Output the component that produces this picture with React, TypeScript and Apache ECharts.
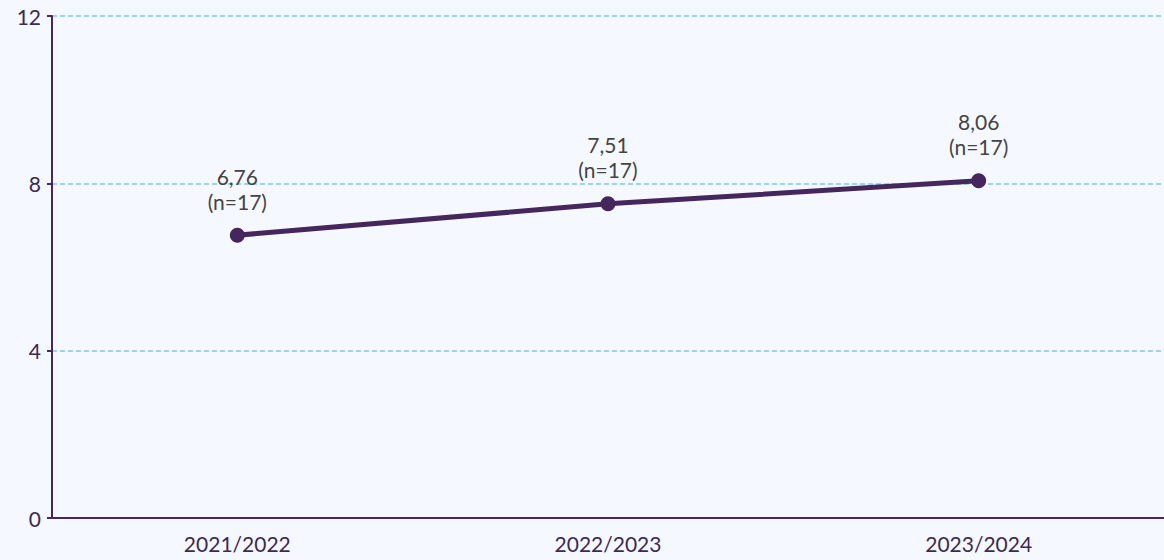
import React, { useEffect, useRef } from "react";
import * as echarts from "echarts";

const categories = ["2021/2022", "2022/2023", "2023/2024"];
const values = [6.76, 7.51, 8.06];
const counts = [17, 17, 17];

export default function App() {
  const ref = useRef<HTMLDivElement>(null);
  useEffect(() => {
    if (!ref.current) return;
    const chart = echarts.init(ref.current, null, { renderer: "svg" });
    const axisColor = "#45285f";
    chart.setOption({
      animation: false,
      backgroundColor: "#f5f8fe",
      textStyle: { fontFamily: "Lato" },
      grid: { left: 52, right: 0, top: 16, bottom: 42 },
      xAxis: {
        type: "category",
        data: categories,
        boundaryGap: true,
        axisLine: { lineStyle: { color: axisColor, width: 2 } },
        axisTick: { alignWithLabel: true, length: 5, lineStyle: { color: axisColor, width: 2 } },
        axisLabel: { color: "#3b2a52", fontSize: 21, margin: 15, fontFamily: "Lato" },
      },
      yAxis: {
        type: "value",
        min: 0,
        max: 12,
        interval: 4,
        axisLine: { show: true, lineStyle: { color: axisColor, width: 2 } },
        axisTick: { show: true, length: 5, lineStyle: { color: axisColor, width: 2 } },
        axisLabel: { color: "#3b2a52", fontSize: 21, margin: 11, fontFamily: "Lato" },
        splitLine: { lineStyle: { color: "#7cc8f2", type: [5, 3], width: 1.5 } },
      },
      series: [
        {
          type: "line",
          data: values,
          symbol: "circle",
          symbolSize: 15,
          lineStyle: { color: "#45275e", width: 5 },
          itemStyle: { color: "#45275e" },
          label: {
            show: true,
            position: "top",
            distance: 14,
            color: "#444444",
            fontSize: 21,
            lineHeight: 25,
            fontFamily: "Lato",
            formatter: (p: any) =>
              String(values[p.dataIndex].toFixed(2)).replace(".", ",") + "\n(n=" + counts[p.dataIndex] + ")",
          },
        },
      ],
    });
    return () => chart.dispose();
  }, []);
  return (
    <div
      ref={ref}
      style={{ position: "fixed", left: 0, top: 0, width: 1164, height: 560 }}
    />
  );
}
